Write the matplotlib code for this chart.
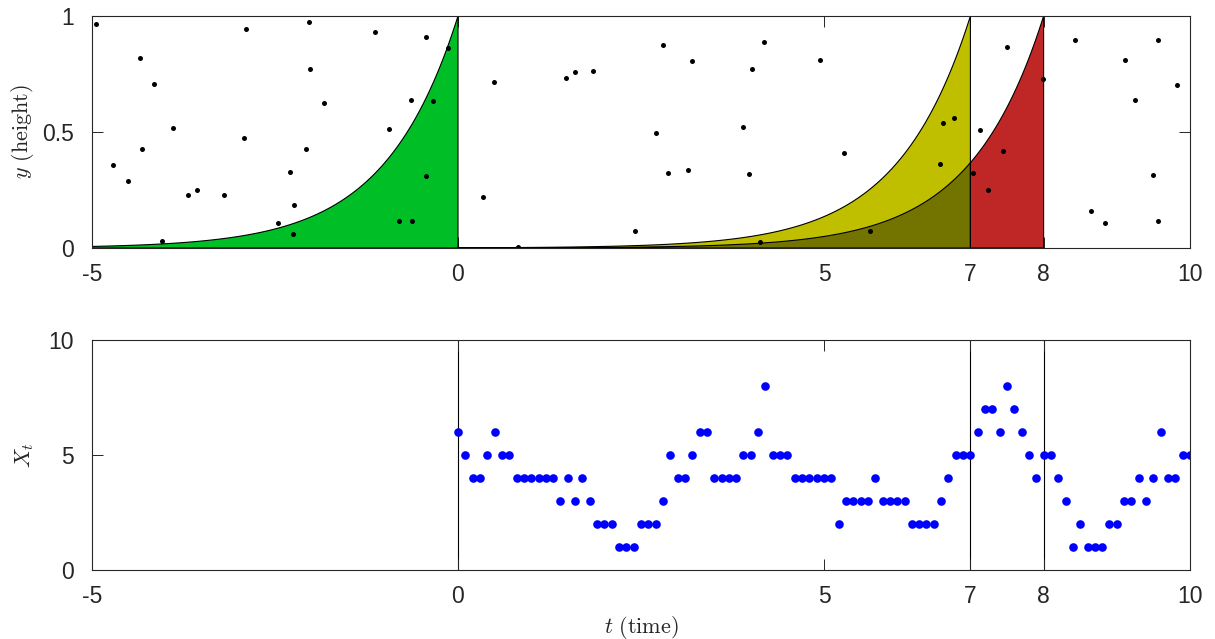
import numpy as np
import matplotlib
matplotlib.use("Agg")
import matplotlib.pyplot as plt

plt.rcParams["font.family"] = ["Liberation Sans", "DejaVu Sans"]
plt.rcParams["mathtext.fontset"] = "cm"

# Marked points (arrival time, height) of the underlying process
pt_time = [-4.94, -4.34, -4.15, -3.90, -4.32, -4.71, -4.51, -3.69, -3.56, -3.19,
           -4.04, -2.90, -2.93, -2.03, -2.02, -1.83, -2.07, -2.29, -2.24, -2.46,
           -2.26, -1.13, -0.44, -0.13, -0.64, -0.34, -0.94, -0.44, -0.80, -0.63,
           0.485, 0.344, 0.825, 1.471, 1.594, 1.838, 2.80, 3.20, 2.71, 2.87,
           3.14, 2.42, 4.175, 4.02, 4.94, 3.89, 3.97, 4.12, 5.27,
           5.625, 6.63, 6.78, 6.59, 7.50, 7.99, 7.13, 7.44, 7.04, 7.24,
           8.43, 9.56, 9.11, 9.82, 9.25, 9.50, 8.65, 8.84, 9.565]
pt_height = [0.966, 0.820, 0.708, 0.519, 0.427, 0.358, 0.289, 0.227, 0.249, 0.227,
             0.030, 0.945, 0.473, 0.974, 0.772, 0.624, 0.427, 0.329, 0.185, 0.106,
             0.062, 0.932, 0.909, 0.862, 0.638, 0.634, 0.512, 0.310, 0.118, 0.118,
             0.714, 0.221, 0.006, 0.731, 0.757, 0.763, 0.874, 0.806, 0.494, 0.325,
             0.336, 0.075, 0.889, 0.773, 0.810, 0.523, 0.318, 0.025, 0.411,
             0.072, 0.540, 0.562, 0.363, 0.865, 0.730, 0.509, 0.417, 0.322, 0.250,
             0.898, 0.895, 0.809, 0.704, 0.638, 0.313, 0.159, 0.109, 0.115]

# Count process sampled every 0.1 time units on [0, 10]
count_time = np.round(np.arange(0, 101) * 0.1, 1)
count_value = [6, 5, 4, 4, 5, 6, 5, 5, 4, 4,
               4, 4, 4, 4, 3, 4, 3, 4, 3, 2,
               2, 2, 1, 1, 1, 2, 2, 2, 3, 5,
               4, 4, 5, 6, 6, 4, 4, 4, 4, 5,
               5, 6, 8, 5, 5, 5, 4, 4, 4, 4,
               4, 4, 2, 3, 3, 3, 3, 4, 3, 3,
               3, 3, 2, 2, 2, 2, 3, 4, 5, 5,
               5, 6, 7, 7, 6, 8, 7, 6, 5, 4,
               5, 5, 4, 3, 1, 2, 1, 1, 1, 2,
               2, 3, 3, 4, 3, 4, 6, 4, 4, 5,
               5]

# Observation times and their shaded decay windows
snap_times = [0, 7, 8]
x_ticks = [-5, 0, 5, 7, 8, 10]
x_ticklabels = ["-5", "0", "5", "7", "8", "10"]
top_yticks = [0, 0.5, 1]
top_yticklabels = ["0", "0.5", "1"]
bot_yticks = [0, 5, 10]
bot_yticklabels = ["0", "5", "10"]

GREEN = "#00BF26"
YELLOW = "#BFBF00"
OLIVE = "#737300"
RED = "#BF2626"
AXC = "#262626"

fig = plt.figure(figsize=(12.15, 6.39), dpi=100)
ax1 = fig.add_axes([92 / 1215, 1 - 248 / 639, 1098 / 1215, 232 / 639])
ax2 = fig.add_axes([92 / 1215, 1 - 570 / 639, 1098 / 1215, 230 / 639])


def decay_region(ax, start, stop, t_obs, color):
    s = np.linspace(start, stop, 400)
    h = np.exp(s - t_obs)
    xs = np.concatenate([[start], s, [stop, start]])
    ys = np.concatenate([[0], h, [0, 0]])
    ax.fill(xs, ys, facecolor=color, edgecolor="black", linewidth=0.8, zorder=2)


decay_region(ax1, -5, snap_times[0], snap_times[0], GREEN)
decay_region(ax1, snap_times[0], snap_times[1], snap_times[1], YELLOW)
decay_region(ax1, snap_times[0], snap_times[1], snap_times[2], OLIVE)
decay_region(ax1, snap_times[1], snap_times[2], snap_times[2], RED)

ax1.plot(pt_time, pt_height, "o", color="black", markersize=3.6,
         markeredgewidth=0, zorder=3)

for t in snap_times:
    ax2.axvline(t, color="black", linewidth=0.8, zorder=1)
ax2.plot(count_time, count_value, "o", color="#0000FF", markersize=6.2,
         markeredgewidth=0, zorder=3)

ax1.set_ylim(0, 1)
ax2.set_ylim(0, 10)
for ax, yt, ytl in [(ax1, top_yticks, top_yticklabels),
                    (ax2, bot_yticks, bot_yticklabels)]:
    ax.set_xlim(-5, 10)
    ax.set_xticks(x_ticks)
    ax.set_xticklabels(x_ticklabels)
    ax.set_yticks(yt)
    ax.set_yticklabels(ytl)
    ax.tick_params(direction="in", length=8, width=0.7, color=AXC,
                   labelsize=16.5, labelcolor=AXC, top=True, right=True)
    ax.tick_params(axis="x", pad=11)
    ax.tick_params(axis="y", pad=13)
    for sp in ax.spines.values():
        sp.set_color(AXC)
        sp.set_linewidth(0.8)
        sp.set_zorder(5)

ax1.set_ylabel(r"$y\ \mathrm{(height)}$", fontsize=16, color=AXC)
ax1.yaxis.set_label_coords(-0.051, 0.5)
ax2.set_ylabel(r"$X_t$", fontsize=16, color=AXC)
ax2.yaxis.set_label_coords(-0.051, 0.5)
ax2.set_xlabel(r"$t\ \mathrm{(time)}$", fontsize=16, color=AXC)
ax2.xaxis.set_label_coords(0.5, -0.19)

fig.savefig("out.png", dpi=100)
